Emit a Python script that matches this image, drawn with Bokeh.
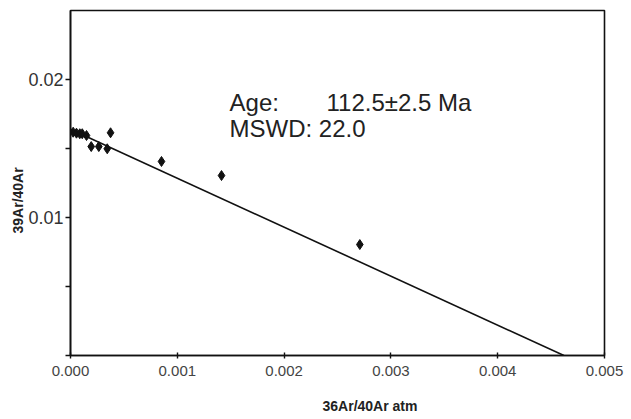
from bokeh.plotting import figure
from bokeh.models import Range1d, FixedTicker, CustomJSTickFormatter, PrintfTickFormatter, Label, ColumnDataSource, Title
from bokeh.embed import file_html
from bokeh.resources import INLINE

# data
ar36_40 = [0.000025, 0.000056, 0.000087, 0.000110, 0.000150, 0.000194,
           0.000265, 0.000344, 0.000375, 0.000852, 0.001414, 0.002709]
ar39_40 = [0.01618, 0.01611, 0.01607, 0.01607, 0.01594, 0.01514,
           0.01514, 0.01498, 0.01614, 0.01406, 0.01304, 0.00804]
fit_x = [0.0, 0.00462]
fit_y = [0.0164, 0.0]
x_ticks = [0.000, 0.001, 0.002, 0.003, 0.004, 0.005]
y_ticks = [0.0, 0.005, 0.01, 0.015, 0.02]
age_text = "112.5±2.5 Ma"
mswd_text = "22.0"
x_title = "36Ar/40Ar atm"
y_title = "39Ar/40Ar"

FONT = "Liberation Sans"

p = figure(width=631, height=419, output_backend="svg", toolbar_location=None,
           x_range=Range1d(0, 0.005), y_range=Range1d(0, 0.025),
           min_border_left=70, min_border_right=27, min_border_top=10, min_border_bottom=64)
p.background_fill_color = "white"
p.border_fill_color = "white"
p.outline_line_color = "#111111"
p.outline_line_width = 1.6
p.xgrid.visible = False
p.ygrid.visible = False

# axes
p.xaxis.ticker = FixedTicker(ticks=x_ticks)
p.xaxis.formatter = PrintfTickFormatter(format="%.3f")
p.xaxis.major_tick_in = 3
p.xaxis.major_tick_out = 3
p.xaxis.minor_tick_line_color = None
p.xaxis.major_label_standoff = 7
p.xaxis.major_label_text_font = FONT
p.xaxis.major_label_text_font_size = "15px"
p.xaxis.major_label_text_color = "#444444"

p.yaxis.ticker = FixedTicker(ticks=y_ticks)
p.yaxis.formatter = CustomJSTickFormatter(code="""
const v = Math.round(tick*1000);
return (v % 10 == 0 && v != 0) ? tick.toFixed(2) : '';
""")
p.yaxis.major_tick_in = 0
p.yaxis.major_tick_out = 5
p.yaxis.minor_tick_line_color = None
p.yaxis.major_label_standoff = 2
p.yaxis.major_label_text_font = FONT
p.yaxis.major_label_text_font_size = "18px"
p.yaxis.major_label_text_color = "#333333"

for ax in (p.xaxis[0], p.yaxis[0]):
    ax.axis_line_color = "#111111"
    ax.axis_line_width = 1.6
    ax.major_tick_line_color = "#111111"
    ax.major_tick_line_width = 1.4

# fit line and points
p.line(fit_x, fit_y, line_color="#111111", line_width=1.6)
src = ColumnDataSource(dict(x=ar36_40, y=ar39_40))
p.scatter("x", "y", source=src, marker="diamond", size=10,
          fill_color="#111111", line_color="#111111")

# annotations
p.add_layout(Label(x=0.001489, y=0.01836, text="Age:", text_font=FONT,
                   text_font_size="24px", text_color="#222222", text_baseline="alphabetic"))
p.add_layout(Label(x=0.002397, y=0.01836, text=age_text, text_font=FONT,
                   text_font_size="24px", text_color="#222222", text_baseline="alphabetic"))
p.add_layout(Label(x=0.001489, y=0.01643, text="MSWD: " + mswd_text, text_font=FONT,
                   text_font_size="24px", text_color="#222222", text_baseline="alphabetic"))

# axis titles
p.add_layout(Title(text="\n" + x_title, align="left", offset=252, text_font=FONT,
                   text_font_size="14px", text_font_style="bold", text_color="#222222",
                   standoff=2), "below")
p.add_layout(Title(text=y_title, align="left", offset=122, text_font=FONT,
                   text_font_size="14px", text_font_style="bold", text_color="#222222",
                   standoff=0), "left")

open("out.html", "w").write(file_html(p, INLINE))
